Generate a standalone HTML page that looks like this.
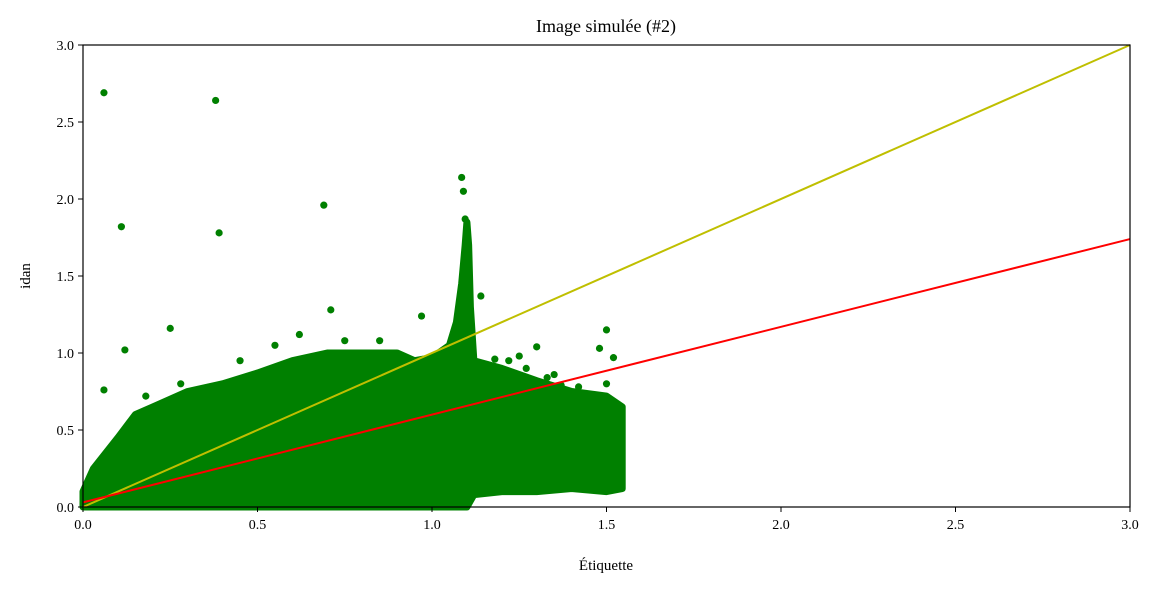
<!DOCTYPE html>
<html><head><meta charset="utf-8"><style>
body{margin:0;background:#fff;}
svg text{font-family:"Liberation Serif",serif;fill:#000;}
</style></head><body>
<svg id="chart" width="1157" height="588" xmlns="http://www.w3.org/2000/svg">
<text x="606" y="32" font-size="18" text-anchor="middle">Image simulée (#2)</text>
<g id="plot"></g>
<text x="606" y="570" font-size="15" text-anchor="middle">Étiquette</text>
<text x="30" y="276" font-size="15" text-anchor="middle" transform="rotate(-90 30 276)">idan</text>
</svg>
<script>
const xTicks=[0,0.5,1.0,1.5,2.0,2.5,3.0];
const yTicks=[0,0.5,1.0,1.5,2.0,2.5,3.0];
const massTopX=[0,0.03,0.1,0.15,0.2,0.3,0.4,0.5,0.6,0.7,0.8,0.9,0.95,1.0,1.05,1.07,1.085,1.095,1.1,1.105,1.11,1.12,1.2,1.3,1.4,1.5,1.545];
const massTopY=[0.1,0.25,0.45,0.6,0.65,0.75,0.8,0.87,0.95,1.0,1.0,1.0,0.95,0.97,1.05,1.2,1.45,1.7,1.85,1.7,1.3,0.95,0.9,0.82,0.75,0.72,0.65];
const massBotX=[1.545,1.5,1.4,1.3,1.2,1.12,1.1,0];
const massBotY=[0.12,0.1,0.12,0.1,0.1,0.08,0,0];
const outX=[0.06,0.38,0.11,0.39,0.69,1.085,1.09,1.095,1.14,0.71,0.97,0.25,0.12,0.06,1.5,1.48,1.3,1.52,1.37,1.5,0.18,0.28,0.45,0.55,0.62,0.75,0.85,1.18,1.22,1.27,1.33,1.42,1.46,1.25,1.35];
const outY=[2.69,2.64,1.82,1.78,1.96,2.14,2.05,1.87,1.37,1.28,1.24,1.16,1.02,0.76,1.15,1.03,1.04,0.97,0.79,0.8,0.72,0.8,0.95,1.05,1.12,1.08,1.08,0.96,0.95,0.9,0.84,0.78,0.7,0.98,0.86];
const redLine=[[0,0.03],[3,1.74]];
const yellowLine=[[0,0],[3,3]];
const X0=83,X1=1130,Y0=507,Y1=45;
const sx=v=>X0+v/3*(X1-X0), sy=v=>Y0-v/3*(Y0-Y1);
const NS='http://www.w3.org/2000/svg', g=document.getElementById('plot');
function mk(t,a){const e=document.createElementNS(NS,t);for(const k in a)e.setAttribute(k,a[k]);g.appendChild(e);return e;}
let pts=massTopX.map((x,i)=>sx(x)+','+sy(massTopY[i])).concat(massBotX.map((x,i)=>sx(x)+','+sy(massBotY[i]))).join(' ');
const mass=mk('polygon',{points:pts,fill:'#008000',stroke:'#008000','stroke-width':7,'stroke-linejoin':'round'});


outX.forEach((x,i)=>{const c=mk('circle',{cx:sx(x),cy:sy(outY[i]),r:3.6,fill:'#008000'});

});
const yl=mk('line',{x1:sx(yellowLine[0][0]),y1:sy(yellowLine[0][1]),x2:sx(yellowLine[1][0]),y2:sy(yellowLine[1][1]),stroke:'#bfbf00','stroke-width':2});


const rl=mk('line',{x1:sx(redLine[0][0]),y1:sy(redLine[0][1]),x2:sx(redLine[1][0]),y2:sy(redLine[1][1]),stroke:'#ff0000','stroke-width':2});


const fr=mk('rect',{x:X0,y:Y1,width:X1-X0,height:Y0-Y1,fill:'none',stroke:'#000','stroke-width':1.2});


xTicks.forEach(v=>{const l=mk('line',{x1:sx(v),x2:sx(v),y1:Y0,y2:Y0+5,stroke:'#000'});


const t=mk('text',{x:sx(v),y:Y0+22,'font-size':14,'text-anchor':'middle'});t.textContent=v.toFixed(1);

});
yTicks.forEach(v=>{const l=mk('line',{x1:X0-5,x2:X0,y1:sy(v),y2:sy(v),stroke:'#000'});


const t=mk('text',{x:X0-9,y:sy(v)+5,'font-size':14,'text-anchor':'end'});t.textContent=v.toFixed(1);

});
</script>
</body></html>
